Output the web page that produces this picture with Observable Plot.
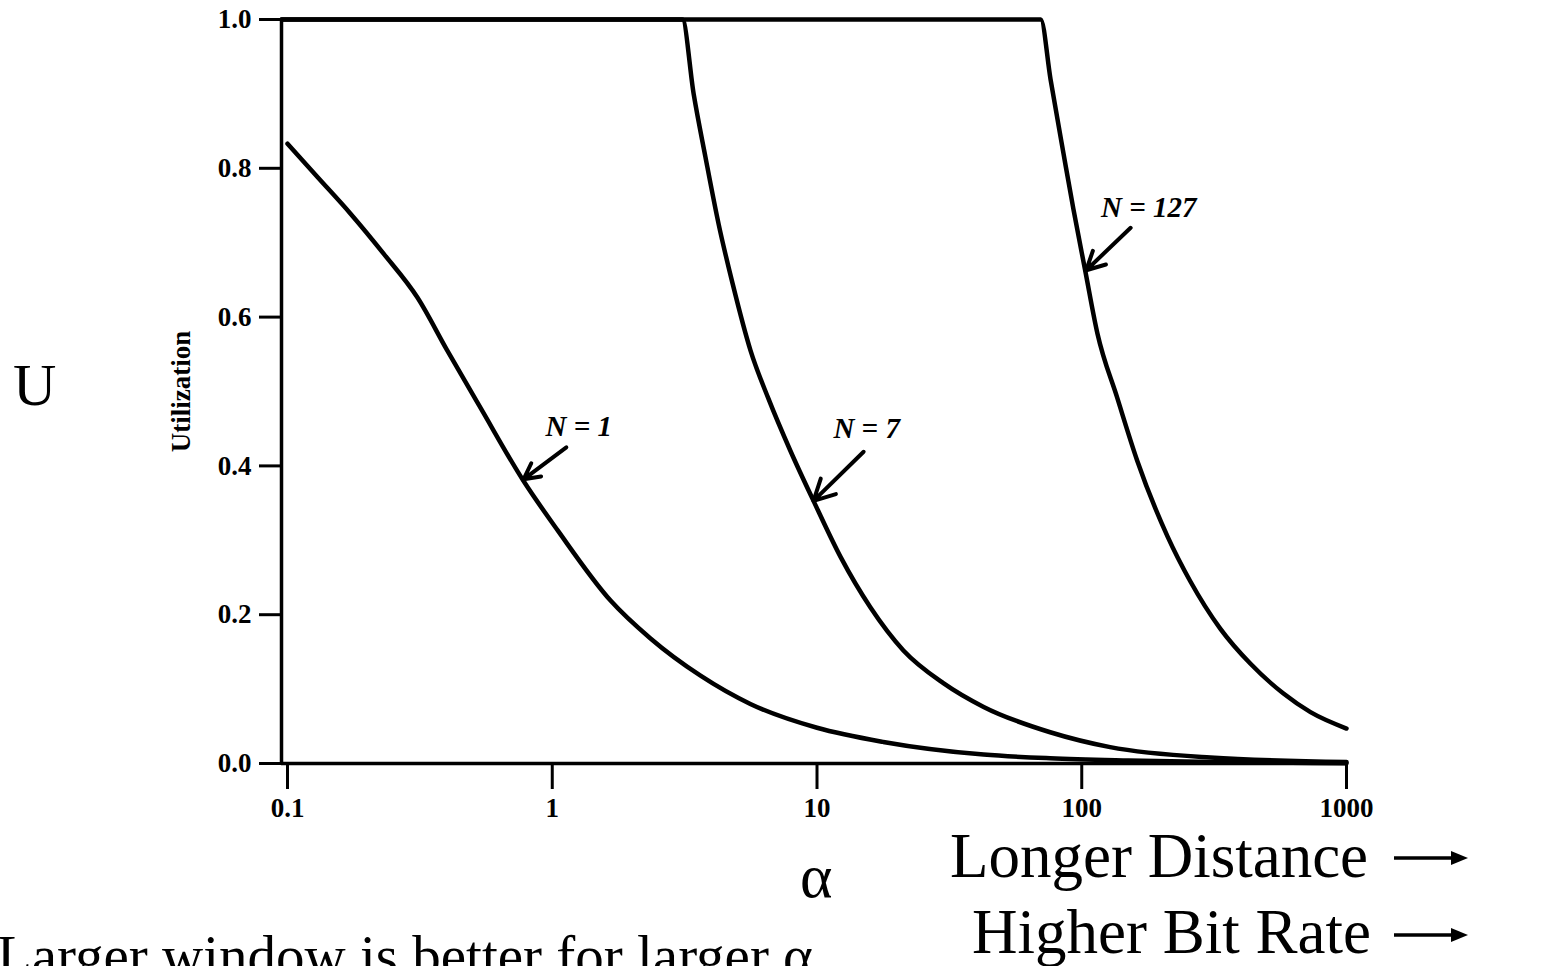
<!DOCTYPE html>
<html>
<head>
<meta charset="utf-8">
<script src="https://cdn.jsdelivr.net/npm/d3@7"></script>
<script src="https://cdn.jsdelivr.net/npm/@observablehq/plot@0.6"></script>
<style>
  html, body { margin: 0; padding: 0; background: white; overflow: hidden; }
  #wrap { position: relative; width: 1563px; height: 966px; overflow: hidden; background: white; }
  #wrap svg { position: absolute; left: 0; top: 0; }
  #overlay { pointer-events: none; }
</style>
</head>
<body>
<div id="wrap"></div>
<script>
// ---- Data (alpha on log axis, utilization U) ----
const alphaN1 = [0.1, 0.13, 0.173, 0.231, 0.31, 0.4, 0.536, 0.778, 1.05, 1.66, 2.35, 3.63, 5.6, 10, 17.8, 42.6, 76, 150, 400, 1000];
const uN1     = [0.833, 0.788, 0.739, 0.685, 0.626, 0.556, 0.478, 0.38, 0.313, 0.219, 0.168, 0.118, 0.08, 0.048, 0.029, 0.012, 0.007, 0.004, 0.0015, 0.0005];

const alphaN7 = [0.095, 3.1, 3.42, 3.79, 4.25, 4.8, 5.61, 6.56, 7.94, 9.7, 12.3, 15.9, 21.2, 30, 42.6, 76, 128, 306, 1000];
const uN7     = [1, 1, 0.9, 0.815, 0.725, 0.645, 0.555, 0.49, 0.42, 0.353, 0.277, 0.21, 0.152, 0.108, 0.076, 0.042, 0.022, 0.008, 0.002];

const alphaN127 = [0.095, 70, 76.2, 85.3, 93, 103, 114.6, 136, 162, 211, 257, 334, 434, 578, 731, 1000];
const uN127     = [1, 1, 0.92, 0.82, 0.745, 0.663, 0.578, 0.492, 0.407, 0.305, 0.245, 0.181, 0.134, 0.094, 0.069, 0.047];

const seriesNames = ["N = 1", "N = 7", "N = 127"];

// annotation anchors (data coordinates)
const labelAlpha = [1.26, 15.4, 179];
const labelU     = [0.452, 0.450, 0.747];
const arrowFromAlpha = [1.13, 15.0, 153];
const arrowFromU     = [0.425, 0.419, 0.720];
const arrowToAlpha   = [0.779, 9.7, 104];
const arrowToU       = [0.382, 0.353, 0.663];

const xTicks = [0.1, 1, 10, 100, 1000];
const xTickLabels = ["0.1", "1", "10", "100", "1000"];
const yTicks = [0, 0.2, 0.4, 0.6, 0.8, 1.0];

const yAxisTitle = "Utilization";
const bigTexts = {
  u: "U",
  alpha: "\u03B1",
  distance: "Longer Distance",
  bitrate: "Higher Bit Rate",
  note: "Larger window is better for larger \u03B1"
};

// ---- build tables ----
const lines = [];
[[alphaN1, uN1], [alphaN7, uN7], [alphaN127, uN127]].forEach(([a, u], i) => {
  a.forEach((v, j) => lines.push({series: seriesNames[i], alpha: v, u: u[j]}));
});
const labels = seriesNames.map((s, i) => ({text: s, alpha: labelAlpha[i], u: labelU[i]}));
const arrows = seriesNames.map((s, i) => ({x1: arrowFromAlpha[i], y1: arrowFromU[i], x2: arrowToAlpha[i], y2: arrowToU[i]}));

const serif = "'Liberation Serif', 'Times New Roman', Times, serif";
const xDomain = [0.0949, 1000];

const chart = Plot.plot({
  width: 1563,
  height: 966,
  marginLeft: 281,
  marginRight: 217,
  marginTop: 19,
  marginBottom: 203,
  x: {type: "log", domain: xDomain},
  y: {domain: [0, 1]},
  style: {fontFamily: serif, background: "white", color: "black", overflow: "visible"},
  marks: [
    Plot.ruleX([xDomain[0]], {stroke: "black", strokeWidth: 3.5}),
    Plot.ruleY([0], {stroke: "black", strokeWidth: 3.5}),
    Plot.axisY({
      ticks: yTicks, tickFormat: d3.format(".1f"), tickSize: 22, tickPadding: 8,
      strokeWidth: 3, fontSize: 27, fontWeight: "bold", fontFamily: serif, label: null
    }),
    Plot.axisX({
      ticks: xTicks, tickFormat: (d) => xTickLabels[xTicks.indexOf(d)], tickSize: 26, tickPadding: 8,
      strokeWidth: 3, fontSize: 27, fontWeight: "bold", fontFamily: serif, label: null
    }),
    Plot.text([yAxisTitle], {
      frameAnchor: "left", text: d => d, rotate: -90, dx: -100, textAnchor: "middle",
      fontSize: 27, fontWeight: "bold", fontFamily: serif
    }),
    Plot.line(lines, {
      x: "alpha", y: "u", z: "series", stroke: "black", strokeWidth: 4.5,
      curve: "monotone-x", strokeLinejoin: "round", strokeLinecap: "round"
    }),
    Plot.arrow(arrows, {
      x1: "x1", y1: "y1", x2: "x2", y2: "y2", stroke: "black", strokeWidth: 4,
      headLength: 18, headAngle: 55
    }),
    Plot.text(labels, {
      x: "alpha", y: "u", text: "text", fontSize: 29, fontWeight: "bold",
      fontStyle: "italic", fontFamily: serif, fill: "black"
    })
  ]
});

const wrap = document.getElementById("wrap");
wrap.appendChild(chart);

// ---- overlay texts around the chart ----
const ns = "http://www.w3.org/2000/svg";
const ov = document.createElementNS(ns, "svg");
ov.setAttribute("id", "overlay");
ov.setAttribute("width", 1563);
ov.setAttribute("height", 966);
function addText(str, x, y, size) {
  const t = document.createElementNS(ns, "text");
  t.setAttribute("x", x);
  t.setAttribute("y", y);
  t.setAttribute("font-family", serif);
  t.setAttribute("font-size", size);
  t.setAttribute("fill", "black");
  t.textContent = str;
  ov.appendChild(t);
}
function addArrow(x1, x2, y) {
  const l = document.createElementNS(ns, "line");
  l.setAttribute("x1", x1); l.setAttribute("x2", x2 - 12);
  l.setAttribute("y1", y); l.setAttribute("y2", y);
  l.setAttribute("stroke", "black"); l.setAttribute("stroke-width", 3.5);
  ov.appendChild(l);
  const p = document.createElementNS(ns, "polygon");
  p.setAttribute("points", `${x2},${y} ${x2 - 17},${y - 7} ${x2 - 17},${y + 7}`);
  p.setAttribute("fill", "black");
  ov.appendChild(p);
}
addText(bigTexts.u, 13, 405, 60);
addText(bigTexts.alpha, 800, 897, 62);
addText(bigTexts.distance, 950, 877, 63);
addText(bigTexts.bitrate, 972, 953, 63);
addText(bigTexts.note, -3, 975, 57);
addArrow(1394, 1468, 858);
addArrow(1394, 1468, 935);
wrap.appendChild(ov);
</script>
</body>
</html>
